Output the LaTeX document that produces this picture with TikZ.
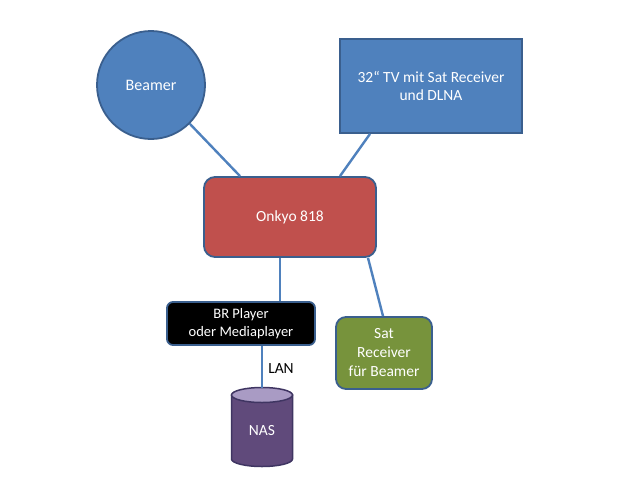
\documentclass[tikz,border=0pt]{standalone}
\usepackage{fontspec}
\setmainfont{Carlito}
\usetikzlibrary{calc}
\definecolor{blueF}{HTML}{4F81BD}
\definecolor{blueD}{HTML}{3A5F8E}
\definecolor{redF}{HTML}{C0504D}
\definecolor{greenF}{HTML}{77933C}
\definecolor{purpleF}{HTML}{604A7B}
\definecolor{purpleT}{HTML}{A99BC4}
\definecolor{purpleD}{HTML}{3F3562}
\begin{document}
\begin{tikzpicture}[x=1pt,y=-1pt,
  box/.style={draw=blueD, line width=1.8pt, inner sep=0pt, text=white, align=center,
    font=\fontsize{15.5}{18.5}\selectfont},
  conn/.style={draw=blueF, line width=2.4pt}]
\useasboundingbox[fill=white] (0,0) rectangle (640,480);

\node[box, circle, fill=blueF, minimum size=108pt, font=\fontsize{16}{19}\selectfont] (beamer) at (151,85) {Beamer};
\node[box, rectangle, fill=blueF, minimum width=182pt, minimum height=94pt] (tv) at (431,86) {32“ TV mit Sat Receiver\\und DLNA};
\node[box, rectangle, rounded corners=11pt, fill=redF, minimum width=172pt, minimum height=80pt] (onkyo) at (290,217) {Onkyo 818};
\node[box, rectangle, rounded corners=6pt, fill=black, minimum width=148pt, minimum height=43pt, font=\fontsize{14.5}{18}\selectfont] (br) at (241,323.5) {BR Player\\oder Mediaplayer};
\node[box, rectangle, rounded corners=10pt, fill=greenF, minimum width=96pt, minimum height=72pt, font=\fontsize{15.5}{19}\selectfont] (sat) at (384,353) {Sat\\Receiver\\für Beamer};

% NAS cylinder
\draw[draw=purpleD, line width=1.5pt, fill=purpleF] (231.5,395) -- (231.5,459) arc[start angle=180, end angle=0, x radius=30.5, y radius=7.5] -- (292.5,395) -- cycle;
\draw[draw=purpleD, line width=1.5pt, fill=purpleT] (262,395) ellipse[x radius=30.5, y radius=7.5];
\node[text=white, font=\fontsize{15.5}{18.5}\selectfont] (nas) at (262,431) {NAS};
\coordinate (nastop) at (262,387.5);

% connectors
\draw[conn] (beamer.-45) -- ($(onkyo.north)+(-50,0)$);
\draw[conn] ($(tv.south)+(-61,0)$) -- ($(onkyo.north)+(50,0)$);
\draw[conn] ($(onkyo.south)+(-10,0)$) -- ($(br.north)+(39,0)$);
\draw[conn] ($(onkyo.south)+(78,0)$) -- ($(sat.north)+(-1,0)$);
\draw[conn] ($(br.south)+(21,0)$) -- (nastop);
\node[font=\fontsize{15.5}{18.5}\selectfont] (lan) at (281,369) {LAN};
\end{tikzpicture}
\end{document}
